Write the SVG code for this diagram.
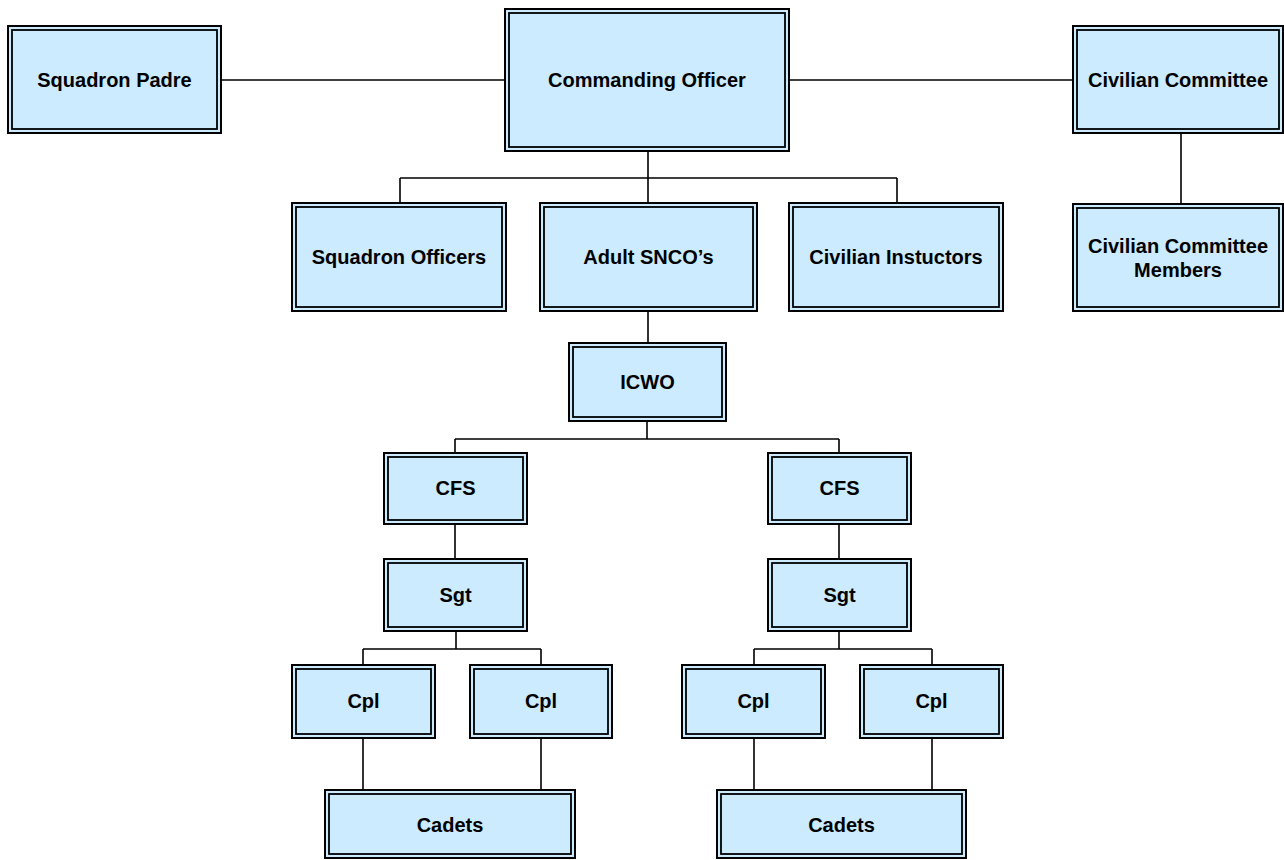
<svg xmlns="http://www.w3.org/2000/svg" width="1284" height="860" viewBox="0 0 1284 860">
<style>
.o{fill:#CCEBFF;stroke:#000;stroke-width:2}
.i{fill:none;stroke:#000;stroke-width:1.8}
.t{font-family:"Liberation Sans",Arial,sans-serif;font-weight:bold;font-size:20px;fill:#000;text-anchor:middle}
#connectors path{fill:none;stroke:#000;stroke-width:1.6}
</style>
<rect width="1284" height="860" fill="#fff"/>
<g id="connectors">
<path d="M221 80H505M789 80H1073M1181 133V204"/>
<path d="M648 151V178M400 178H897M400 178V203M648 178V203M897 178V203"/>
<path d="M648 311V343M647 421V439M455 439H839M455 439V453M839 439V453"/>
<path d="M455 524V559M839 524V559"/>
<path d="M456 631V649M363 649H541M363 649V665M541 649V665"/>
<path d="M839 631V649M754 649H932M754 649V665M932 649V665"/>
<path d="M363 738V790M541 738V790M754 738V790M932 738V790"/>
</g>
<g id="padre"><rect class="o" x="8" y="26" width="213" height="107"/><rect class="i" x="12" y="30" width="205" height="99"/><text class="t" x="114.5" y="86.5">Squadron Padre</text></g>
<g id="co"><rect class="o" x="505" y="9" width="284" height="142"/><rect class="i" x="509" y="13" width="276" height="134"/><text class="t" x="647" y="87">Commanding Officer</text></g>
<g id="civcom"><rect class="o" x="1073" y="26" width="210" height="107"/><rect class="i" x="1077" y="30" width="202" height="99"/><text class="t" x="1178" y="86.5">Civilian Committee</text></g>
<g id="civmem"><rect class="o" x="1073" y="204" width="210" height="107"/><rect class="i" x="1077" y="208" width="202" height="99"/><text class="t" x="1178" y="253">Civilian Committee</text><text class="t" x="1178" y="277">Members</text></g>
<g id="sqoff"><rect class="o" x="292" y="203" width="214" height="108"/><rect class="i" x="296" y="207" width="206" height="100"/><text class="t" x="399" y="264">Squadron Officers</text></g>
<g id="snco"><rect class="o" x="540" y="203" width="217" height="108"/><rect class="i" x="544" y="207" width="209" height="100"/><text class="t" x="648.5" y="264">Adult SNCO’s</text></g>
<g id="civinst"><rect class="o" x="789" y="203" width="214" height="108"/><rect class="i" x="793" y="207" width="206" height="100"/><text class="t" x="896" y="264">Civilian Instuctors</text></g>
<g id="icwo"><rect class="o" x="569" y="343" width="157" height="78"/><rect class="i" x="573" y="347" width="149" height="70"/><text class="t" x="647.5" y="389">ICWO</text></g>
<g id="cfs1"><rect class="o" x="384" y="453" width="143" height="71"/><rect class="i" x="388" y="457" width="135" height="63"/><text class="t" x="455.5" y="495">CFS</text></g>
<g id="cfs2"><rect class="o" x="768" y="453" width="143" height="71"/><rect class="i" x="772" y="457" width="135" height="63"/><text class="t" x="839.5" y="495">CFS</text></g>
<g id="sgt1"><rect class="o" x="384" y="559" width="143" height="72"/><rect class="i" x="388" y="563" width="135" height="64"/><text class="t" x="455.5" y="602">Sgt</text></g>
<g id="sgt2"><rect class="o" x="768" y="559" width="143" height="72"/><rect class="i" x="772" y="563" width="135" height="64"/><text class="t" x="839.5" y="602">Sgt</text></g>
<g id="cpl1"><rect class="o" x="292" y="665" width="143" height="73"/><rect class="i" x="296" y="669" width="135" height="65"/><text class="t" x="363.5" y="708">Cpl</text></g>
<g id="cpl2"><rect class="o" x="470" y="665" width="142" height="73"/><rect class="i" x="474" y="669" width="134" height="65"/><text class="t" x="541" y="708">Cpl</text></g>
<g id="cpl3"><rect class="o" x="682" y="665" width="143" height="73"/><rect class="i" x="686" y="669" width="135" height="65"/><text class="t" x="753.5" y="708">Cpl</text></g>
<g id="cpl4"><rect class="o" x="860" y="665" width="143" height="73"/><rect class="i" x="864" y="669" width="135" height="65"/><text class="t" x="931.5" y="708">Cpl</text></g>
<g id="cadets1"><rect class="o" x="325" y="790" width="250" height="68"/><rect class="i" x="329" y="794" width="242" height="60"/><text class="t" x="450" y="832">Cadets</text></g>
<g id="cadets2"><rect class="o" x="717" y="790" width="249" height="68"/><rect class="i" x="721" y="794" width="241" height="60"/><text class="t" x="841.5" y="832">Cadets</text></g>
</svg>
